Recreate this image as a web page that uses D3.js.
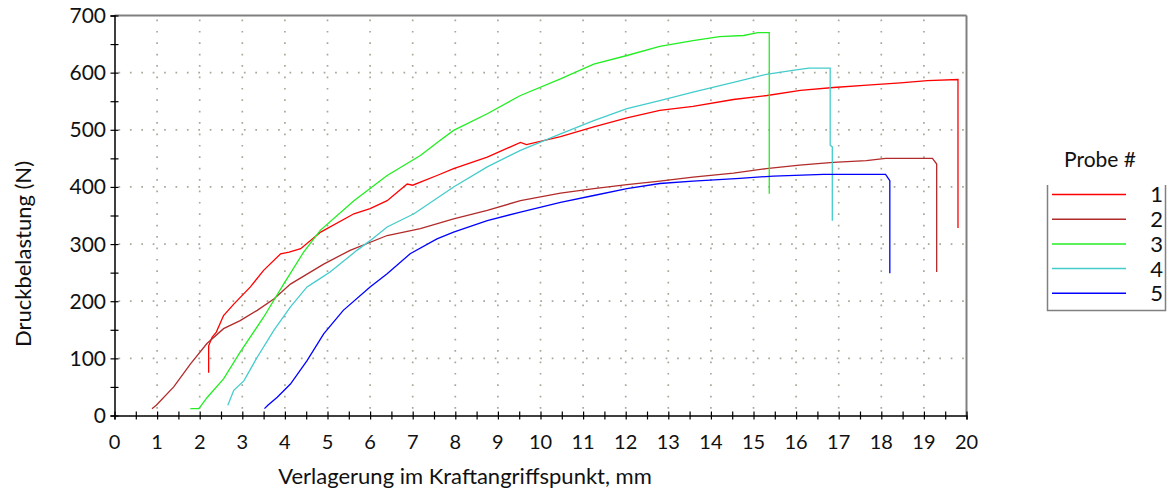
<!DOCTYPE html>
<html>
<head>
<meta charset="utf-8">
<script src="https://d3js.org/d3.v7.min.js"></script>
<style>
body { margin: 0; background: #fff; }
text { font-family: Lato, "Open Sans", sans-serif; fill: #111; }
</style>
</head>
<body>
<div id="chart"></div>
<script>
// Probe curves: [Verlagerung mm, Druckbelastung N]
var probe1 = [[2.21,75],[2.21,122],[2.29,137],[2.39,146],[2.56,175],[2.8,195],[3.19,225],[3.5,254],[3.9,283],[4.1,286],[4.37,292],[4.84,321],[5.62,353],[6.0,362],[6.4,376],[6.87,405],[7.0,403],[7.57,420],[7.96,432],[8.75,452],[9.53,478],[9.67,474],[10.47,488],[11.25,505],[12.03,521],[12.8,534],[13.58,541],[14.53,553],[15.32,560],[16.1,569],[16.88,574],[17.67,578],[18.45,582],[19.08,586],[19.8,588],[19.8,328]];
var probe2 = [[0.88,12],[0.98,18],[1.39,50],[1.78,90],[2.17,126],[2.56,152],[2.95,166],[3.35,184],[3.74,204],[4.13,230],[4.91,265],[5.53,289],[6.4,315],[7.18,327],[7.96,344],[8.75,359],[9.53,376],[10.47,389],[11.25,397],[12.03,404],[12.8,410],[13.58,417],[14.53,424],[15.3,432],[16.08,438],[16.87,443],[17.65,446],[18.1,450],[19.2,450],[19.3,440],[19.3,251]];
var probe3 = [[1.78,12],[1.98,12],[2.18,32],[2.56,64],[2.95,111],[3.5,172],[3.97,230],[4.44,286],[4.83,324],[5.62,376],[6.4,420],[7.18,455],[7.6,479],[7.96,499],[8.75,528],[9.53,560],[10.47,589],[11.25,615],[12.03,630],[12.8,646],[13.58,656],[14.2,663],[14.77,665],[15.1,670],[15.37,670],[15.37,388]];
var probe4 = [[2.66,18],[2.8,44],[3.04,61],[3.35,102],[3.74,149],[4.13,190],[4.52,225],[4.75,236],[5.06,251],[5.69,289],[6.0,306],[6.4,330],[7.03,353],[7.96,400],[8.75,435],[9.53,464],[10.47,493],[11.25,516],[12.03,537],[12.8,551],[13.58,566],[14.53,583],[15.3,597],[16.0,605],[16.3,608],[16.8,608],[16.8,473],[16.85,470],[16.85,341]];
var probe5 = [[3.52,12],[3.6,18],[3.82,32],[4.13,55],[4.52,96],[4.91,143],[5.37,184],[6.0,225],[6.4,248],[6.94,283],[7.57,309],[7.96,321],[8.75,341],[9.53,356],[10.47,373],[11.25,385],[12.03,397],[12.8,406],[13.58,410],[14.68,415],[15.47,419],[16.64,422],[18.1,422],[18.2,411],[18.2,249]];

var probeNames = ["1", "2", "3", "4", "5"];
var probeColors = ["#ff0000", "#b22a2a", "#22ee22", "#44cccc", "#0000ff"];
var xTicks = d3.range(0, 21);
var yTicks = [0, 100, 200, 300, 400, 500, 600, 700];

var allProbes = [probe1, probe2, probe3, probe4, probe5];

var svg = d3.select("#chart")
	.append("svg")
	.attr("width", 1171)
	.attr("height", 492);

var x = d3.scaleLinear().domain([0, 20]).range([114.5, 966.5]);
var y = d3.scaleLinear().domain([0, 700]).range([415.5, 15.5]);

// dotted grid
svg.append("g").selectAll("line")
	.data(xTicks.slice(1, 20))
	.enter()
	.append("line")
	.attr("x1", function(d){return x(d);})
	.attr("x2", function(d){return x(d);})
	.attr("y1", y(700) + 4)
	.attr("y2", y(0))
	.style("stroke", "#a8a898")
	.style("stroke-width", 1.7)
	.style("stroke-dasharray", "1.7,9.7");
svg.append("g").selectAll("line")
	.data(yTicks.slice(1, 7))
	.enter()
	.append("line")
	.attr("x1", x(0) + 4)
	.attr("x2", x(20))
	.attr("y1", function(d){return y(d);})
	.attr("y2", function(d){return y(d);})
	.style("stroke", "#a8a898")
	.style("stroke-width", 1.7)
	.style("stroke-dasharray", "1.7,9.7");

// top and right frame
svg.append("line")
	.attr("x1", x(0)).attr("x2", x(20)).attr("y1", y(700)).attr("y2", y(700))
	.style("stroke", "#808080").style("stroke-width", 2);
svg.append("line")
	.attr("x1", x(20)).attr("x2", x(20)).attr("y1", y(700)).attr("y2", y(0))
	.style("stroke", "#808080").style("stroke-width", 2);

// axes
var xAxis = svg.append("g")
	.attr("transform", "translate(0," + y(0) + ")")
	.call(d3.axisBottom(x).tickValues(d3.range(0, 20.5, 0.5)).tickSize(4).tickFormat(""));
xAxis.selectAll(".tick line").attr("y1", -4).style("stroke", "#000").style("stroke-width", 1.2);
xAxis.select(".domain").style("stroke", "#000").style("stroke-width", 1.5);
svg.append("g").selectAll("text")
	.data(xTicks)
	.enter()
	.append("text")
	.attr("x", function(d){return x(d);})
	.attr("y", 449)
	.attr("text-anchor", "middle")
	.style("font-size", "20px")
	.text(function(d){return d;});

var yAxis = svg.append("g")
	.attr("transform", "translate(" + x(0) + ",0)")
	.call(d3.axisLeft(y).tickValues(d3.range(0, 701, 50)).tickSize(4).tickFormat(""));
yAxis.selectAll(".tick line").attr("x1", 4).style("stroke", "#000").style("stroke-width", 1.2);
yAxis.select(".domain").style("stroke", "#000").style("stroke-width", 1.5);
svg.append("g").selectAll("text")
	.data(yTicks)
	.enter()
	.append("text")
	.attr("x", 106)
	.attr("y", function(d){return y(d);})
	.attr("dy", "0.36em")
	.attr("text-anchor", "end")
	.style("font-size", "21px")
	.text(function(d){return d;});

// axis titles
svg.append("text")
	.attr("x", 465)
	.attr("y", 484)
	.attr("text-anchor", "middle")
	.style("font-size", "22px")
	.text("Verlagerung im Kraftangriffspunkt, mm");
svg.append("text")
	.attr("transform", "translate(31,254) rotate(-90)")
	.attr("text-anchor", "middle")
	.style("font-size", "22px")
	.text("Druckbelastung (N)");

// curves
var line = d3.line()
	.x(function(d){return x(d[0]);})
	.y(function(d){return y(d[1]);});
svg.append("g").selectAll("path")
	.data(allProbes)
	.enter()
	.append("path")
	.attr("d", line)
	.style("fill", "none")
	.style("stroke", function(d, i){return probeColors[i];})
	.style("stroke-width", 1.3);

// legend
var leg = svg.append("g");
leg.append("text")
	.attr("x", 1100)
	.attr("y", 167)
	.attr("text-anchor", "middle")
	.style("font-size", "21px")
	.text("Probe #");
leg.append("path")
	.attr("d", "M1047.5,185V310.5H1165.5V185")
	.style("fill", "none")
	.style("stroke", "#808080")
	.style("stroke-width", 1.5);
leg.selectAll("line.key")
	.data(probeNames)
	.enter()
	.append("line")
	.attr("class", "key")
	.attr("x1", 1052)
	.attr("x2", 1126)
	.attr("y1", function(d, i){return 194.5 + i * 24.7;})
	.attr("y2", function(d, i){return 194.5 + i * 24.7;})
	.style("stroke", function(d, i){return probeColors[i];})
	.style("stroke-width", 1.5);
leg.selectAll("text.key")
	.data(probeNames)
	.enter()
	.append("text")
	.attr("class", "key")
	.attr("x", 1163)
	.attr("y", function(d, i){return 194.5 + i * 24.7;})
	.attr("dy", "0.36em")
	.attr("text-anchor", "end")
	.style("font-size", "22px")
	.text(function(d){return d;});
</script>
</body>
</html>
